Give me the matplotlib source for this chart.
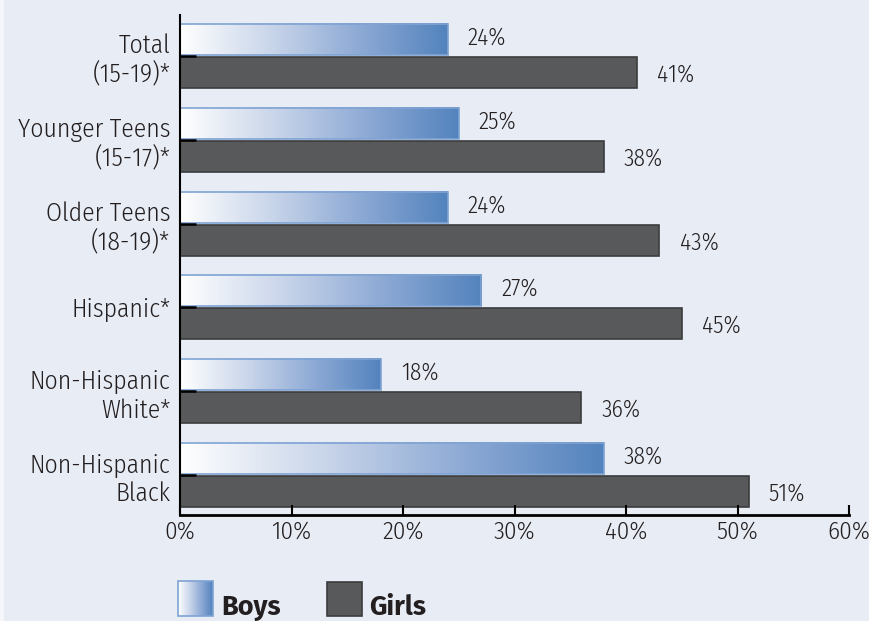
import numpy as np
import matplotlib
matplotlib.use("Agg")
import matplotlib.pyplot as plt
from matplotlib.colors import LinearSegmentedColormap
from matplotlib.patches import Rectangle

categories = ["Total\n(15-19)*", "Younger Teens\n(15-17)*", "Older Teens\n(18-19)*",
              "Hispanic*", "Non-Hispanic\nWhite*", "Non-Hispanic\nBlack"]
boys = [24, 25, 24, 27, 18, 38]
girls = [41, 38, 43, 45, 36, 51]
xticks = [0, 10, 20, 30, 40, 50, 60]
xticklabels = ["0%", "10%", "20%", "30%", "40%", "50%", "60%"]

BG = "#E8ECF5"
GIRL = "#58595B"
BLUE_EDGE = "#7FA3D3"
TXT = "#231F20"
cmap = LinearSegmentedColormap.from_list("boys", ["#FFFFFF", "#CAD6EA", "#8EAAD5", "#5383BD"])

COND = ["Fira Sans Condensed", "Roboto Condensed", "DejaVu Sans"]
BOLD = ["Fira Sans", "Open Sans", "DejaVu Sans"]
plt.rcParams["font.family"] = COND
plt.rcParams["font.weight"] = 300

fig = plt.figure(figsize=(8.69, 6.21), dpi=100, facecolor=BG)
fig.patches.append(Rectangle((0, 0), 4 / 869, 1, transform=fig.transFigure,
                             facecolor="#F4F6FA", edgecolor="none", zorder=0))
ax = fig.add_axes([180 / 869, 1 - 515 / 621, 669 / 869, 500 / 621])
ax.set_facecolor(BG)

h = 0.37
off = 0.196
grad = np.linspace(0, 1, 256).reshape(1, -1)
for i, (b, g) in enumerate(zip(boys, girls)):
    yb = i - off
    ax.imshow(grad, cmap=cmap, extent=[0, b, yb + h / 2, yb - h / 2], aspect="auto",
              zorder=1, interpolation="bicubic")
    ax.add_patch(Rectangle((0, yb - h / 2), b, h, fill=False, edgecolor=BLUE_EDGE, lw=1.2, zorder=1.5))
    ax.barh(i + off, g, height=h, color=GIRL, edgecolor="#3C3C3E", lw=1.2, zorder=1)
    ax.text(b + 1.8, yb - 0.02, f"{b}%", va="center", ha="left", fontsize=17, color=TXT)
    ax.text(g + 1.8, i + off + 0.03, f"{g}%", va="center", ha="left", fontsize=17, color=TXT)

ax.set_xlim(0, 60)
ax.set_ylim(5.476, -0.488)
ax.set_yticks(range(len(categories)))
ax.set_yticklabels(categories, fontsize=18.5, color=TXT, linespacing=1.2)
ax.tick_params(axis="y", direction="in", length=11.5, width=1.8, pad=7, color="black")
ax.set_xticks(xticks)
ax.set_xticklabels(xticklabels, fontsize=18, color=TXT)
ax.tick_params(axis="x", direction="in", length=7.5, width=1.5, pad=4, color="black")
for s in ["top", "right"]:
    ax.spines[s].set_visible(False)
ax.spines["bottom"].set_linewidth(2)
ax.spines["left"].set_linewidth(1.5)

# legend
lax = fig.add_axes([0, 0, 1, 1], facecolor="none")
lax.set_xlim(0, 869)
lax.set_ylim(621, 0)
lax.axis("off")
lax.imshow(grad, cmap=cmap, extent=[178, 213, 616, 581], aspect="auto", zorder=2)
lax.add_patch(Rectangle((178, 581), 35, 35, fill=False, edgecolor=BLUE_EDGE, lw=1.2, zorder=3))
lax.add_patch(Rectangle((327, 582), 35, 34, facecolor=GIRL, edgecolor="#3C3C3E", lw=1.2, zorder=2))
lax.text(221, 615, "Boys", fontsize=19.5, fontweight="bold", color=TXT, va="baseline", ha="left",
         family=BOLD)
lax.text(369, 615, "Girls", fontsize=19.5, fontweight="bold", color=TXT, va="baseline", ha="left",
         family=BOLD)

fig.savefig("out.png", dpi=100, facecolor=BG)
